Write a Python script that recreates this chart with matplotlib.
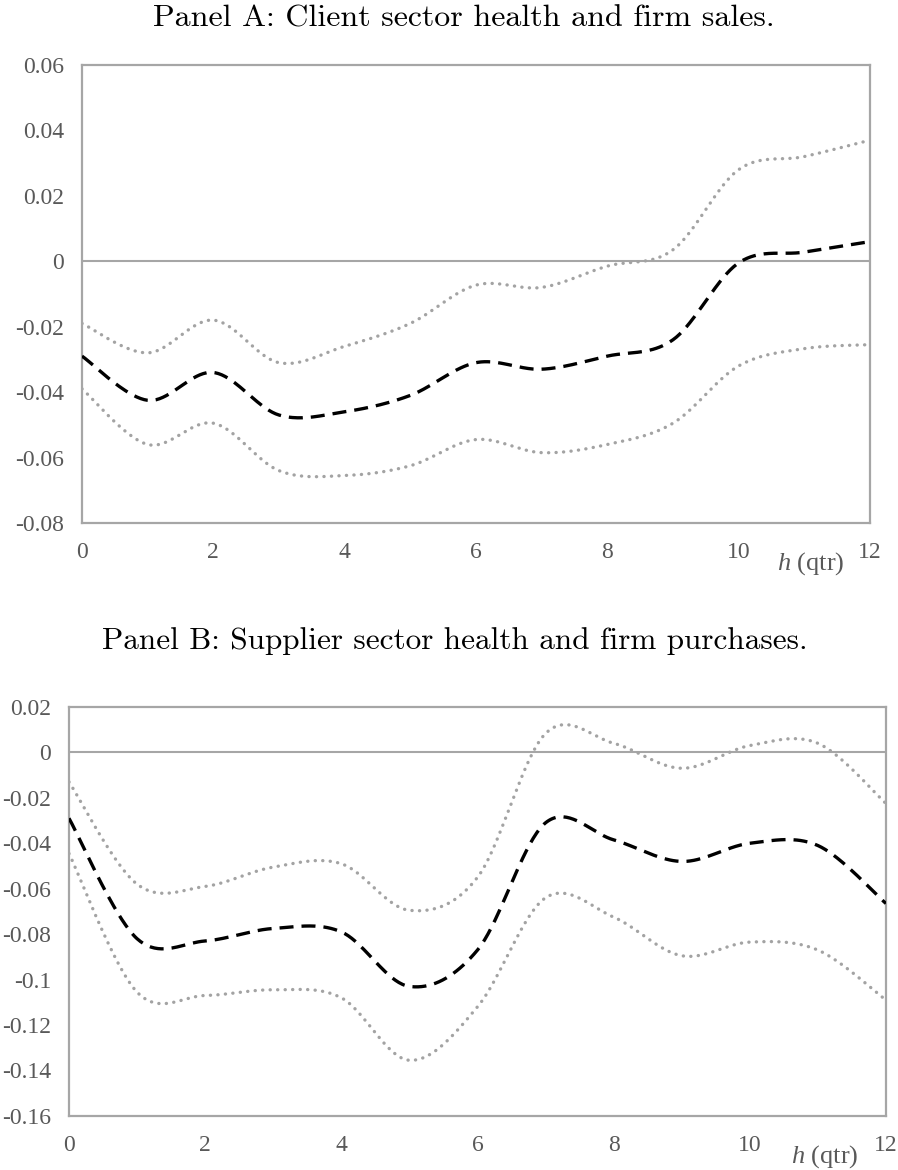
import numpy as np
import matplotlib.pyplot as plt
from matplotlib.ticker import FuncFormatter

plt.rcParams['axes.unicode_minus'] = False

h = np.arange(0, 13)

# Panel A: client sector health -> firm sales
a_est = [-0.029, -0.0425, -0.034, -0.047, -0.046, -0.041, -0.031,
         -0.033, -0.029, -0.024, -0.0005, 0.0028, 0.006]
a_upper = [-0.019, -0.028, -0.018, -0.031, -0.026, -0.019, -0.0073,
           -0.008, -0.0015, 0.0035, 0.028, 0.032, 0.037]
a_lower = [-0.039, -0.056, -0.0495, -0.064, -0.0655, -0.0625, -0.0545,
           -0.0585, -0.056, -0.0495, -0.032, -0.0267, -0.0255]

# Panel B: supplier sector health -> firm purchases
b_est = [-0.029, -0.082, -0.083, -0.0775, -0.079, -0.103, -0.087,
         -0.031, -0.0385, -0.048, -0.040, -0.041, -0.0665]
b_upper = [-0.013, -0.058, -0.059, -0.0505, -0.049, -0.0695, -0.055,
           0.0083, 0.004, -0.007, 0.003, 0.004, -0.0225]
b_lower = [-0.0445, -0.1055, -0.107, -0.1045, -0.108, -0.1355, -0.112,
           -0.064, -0.0725, -0.0895, -0.0835, -0.087, -0.109]

a_ticks = [0.06, 0.04, 0.02, 0, -0.02, -0.04, -0.06, -0.08]
b_ticks = [0.02, 0, -0.02, -0.04, -0.06, -0.08, -0.1, -0.12, -0.14, -0.16]


def smooth(x, y, n=40):
    """Bezier spline through the points (Catmull-Rom tangents)."""
    x = np.asarray(x, float)
    y = np.asarray(y, float)
    px = np.concatenate([[x[0]], x, [x[-1]]])
    py = np.concatenate([[y[0]], y, [y[-1]]])
    xs, ys = [], []
    t = np.linspace(0, 1, n)[:, None]
    for i in range(len(x) - 1):
        p0 = np.array([px[i + 1], py[i + 1]])
        p3 = np.array([px[i + 2], py[i + 2]])
        p1 = p0 + (p3 - np.array([px[i], py[i]])) / 6
        p2 = p3 - (np.array([px[i + 3], py[i + 3]]) - p0) / 6
        b = ((1 - t) ** 3) * p0 + 3 * ((1 - t) ** 2) * t * p1 \
            + 3 * (1 - t) * t ** 2 * p2 + t ** 3 * p3
        xs.append(b[:, 0])
        ys.append(b[:, 1])
    return np.concatenate(xs), np.concatenate(ys)


def panel(ax, est, upper, lower, yticks):
    grey = '#a6a6a6'
    ax.axhline(0, color=grey, lw=1.5, zorder=1)
    for band in (upper, lower):
        sx, sy = smooth(h, band)
        ax.plot(sx, sy, color='#a3a3a3', lw=2.4, dashes=(0.05, 2.2),
                dash_capstyle='round', zorder=2)
    sx, sy = smooth(h, est)
    ax.plot(sx, sy, color='black', lw=2.4, dashes=(4.2, 2.4), zorder=3)

    ax.set_xlim(0, 12)
    ax.set_ylim(min(yticks), max(yticks))
    ax.set_xticks(np.arange(0, 13, 2))
    ax.set_yticks(yticks)
    ax.yaxis.set_major_formatter(FuncFormatter(lambda v, p: '{:g}'.format(round(v, 4))))
    for s in ax.spines.values():
        s.set_color(grey)
        s.set_linewidth(1.6)
    ax.tick_params(length=0, labelsize=17, labelcolor='#595959')
    ax.tick_params(axis='x', pad=14)
    ax.tick_params(axis='y', pad=13)
    for lab in ax.get_xticklabels() + ax.get_yticklabels():
        lab.set_fontfamily('Liberation Serif')
    ax.annotate('$h$ (qtr)', xy=(11.1, 0), xycoords=('data', 'axes fraction'),
                xytext=(0, -29), textcoords='offset points', ha='center',
                va='center', fontsize=19, color='#595959',
                fontfamily='Liberation Serif')


fig = plt.figure(figsize=(8.98, 11.7), dpi=100)
plt.rcParams['mathtext.fontset'] = 'custom'
plt.rcParams['mathtext.it'] = 'Liberation Serif:italic'

ax1 = fig.add_axes([0.0913, 0.553, 0.8775, 0.3915])
panel(ax1, a_est, a_upper, a_lower, a_ticks)

ax2 = fig.add_axes([0.0768, 0.0462, 0.9098, 0.3496])
panel(ax2, b_est, b_upper, b_lower, b_ticks)

fig.text(0.517, 1 - 19 / 1170, 'Panel A: Client sector health and firm sales.',
         ha='center', va='center', fontsize=23, fontfamily='cmr10')
fig.text(0.506, 1 - 641 / 1170, 'Panel B: Supplier sector health and firm purchases.',
         ha='center', va='center', fontsize=22.5, fontfamily='cmr10')

fig.savefig('out.png', dpi=100)
